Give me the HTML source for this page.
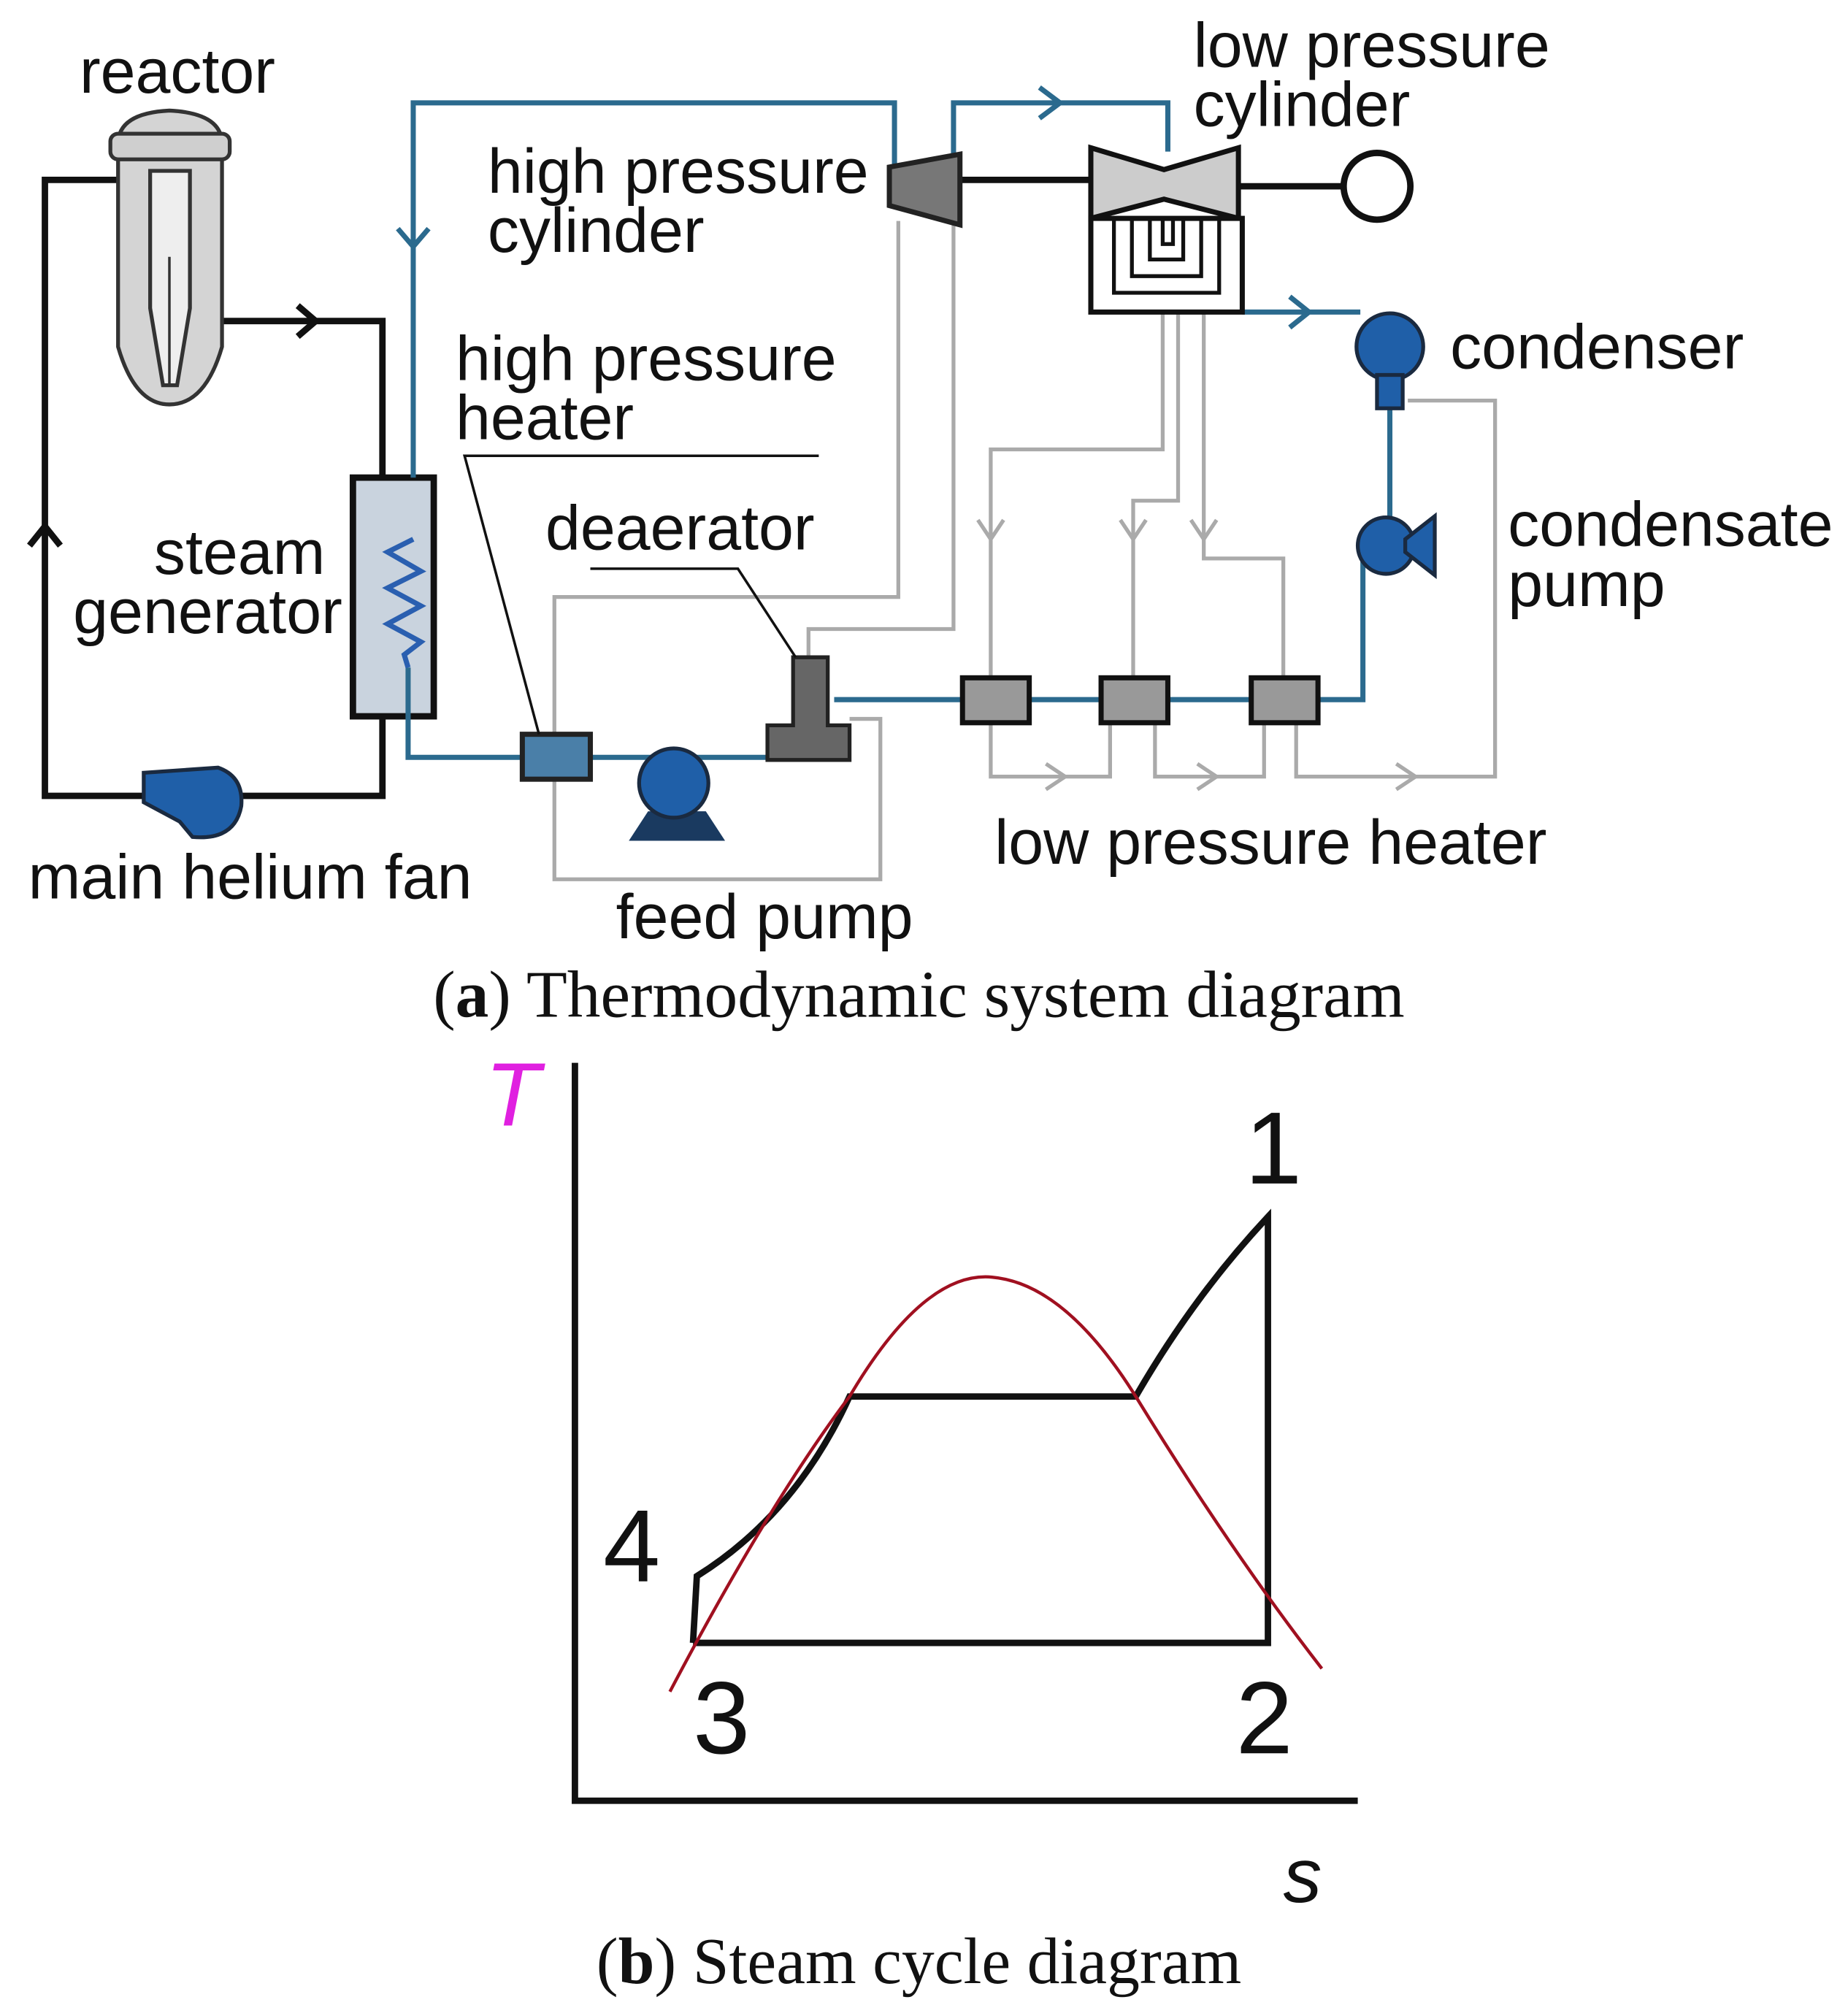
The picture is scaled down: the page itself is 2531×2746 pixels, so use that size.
<!DOCTYPE html>
<html><head><meta charset="utf-8"><style>
html,body{margin:0;padding:0;background:#fff;}
svg{display:block;}
text{font-family:"Liberation Sans",sans-serif;fill:#111;}
.s{font-family:"Liberation Serif",serif;}
</style></head><body>
<svg width="2531" height="2746" viewBox="0 0 1440 1562" xmlns="http://www.w3.org/2000/svg">
<rect width="1440" height="1562" fill="#fff"/>
<!-- gray extraction lines -->
<g fill="none" stroke="#aaa" stroke-width="3">
<polyline points="700,172 700,465 432,465 432,685 686,685 686,560 662,560"/>
<polyline points="743,172 743,490 630,490 630,512"/>
<polyline points="906,243 906,350 772,350 772,528"/>
<polyline points="918,243 918,390 883,390 883,528"/>
<polyline points="938,243 938,435 1000,435 1000,528"/>
<polyline points="772,563 772,605 865,605 865,563"/>
<polyline points="900,563 900,605 985,605 985,563"/>
<polyline points="1010,563 1010,605 1165,605 1165,312 1097,312"/>
<polyline points="762,405 772,420 782,405"/>
<polyline points="873,405 883,420 893,405"/>
<polyline points="928,405 938,420 948,405"/>
<polyline points="815,595 830,605 815,615"/>
<polyline points="933,595 948,605 933,615"/>
<polyline points="1088,595 1103,605 1088,615"/>
</g>
<!-- black loop -->
<g fill="none" stroke="#111" stroke-width="5">
<polyline points="95,140 35,140 35,620 298,620 298,558"/>
<polyline points="170,250 298,250 298,372"/>
<polyline points="232,238 246,250 232,262"/>
<polyline points="23,425 35,410 47,425"/>
<line x1="748" y1="140" x2="850" y2="140"/>
<line x1="965" y1="145" x2="1048" y2="145"/>
</g>
<circle cx="1073" cy="145" r="26" fill="#fff" stroke="#111" stroke-width="5"/>
<!-- reactor -->
<path d="M92,112 Q92,88 132,86 Q173,88 173,112 L173,270 Q160,315 132,315 Q105,315 92,270 Z" fill="#d4d4d4" stroke="#333" stroke-width="3"/>
<rect x="86" y="104" width="93" height="20" rx="6" fill="#cfcfcf" stroke="#333" stroke-width="3"/>
<path d="M117,133 L148,133 L148,240 L138,300 L127,300 L117,240 Z" fill="#eee" stroke="#333" stroke-width="3"/>
<line x1="132" y1="200" x2="132" y2="300" stroke="#333" stroke-width="2"/>
<!-- steam generator -->
<rect x="275" y="372" width="63" height="186" fill="#c9d3de" stroke="#111" stroke-width="5"/>
<!-- blue lines -->
<g fill="none" stroke="#2b6a8e" stroke-width="4">
<polyline points="322,372 322,80 697,80 697,128"/>
<polyline points="743,135 743,80 910,80 910,118"/>
<polyline points="318,520 318,590 633,590 633,592"/>
<polyline points="650,545 1062,545 1062,425"/>
<polyline points="1083,425 1083,318"/>
<polyline points="968,243 1060,243"/>
<polyline points="310,178 322,192 334,178"/>
<polyline points="810,68 826,80 810,92"/>
<polyline points="1005,231 1020,243 1005,255"/>
<polyline points="322,420 302,430 328,445 302,458 328,472 302,486 328,500 315,510 318,520" stroke="#2a5fb0"/>
</g>
<!-- HP cylinder -->
<path d="M693,130 L748,120 L748,175 L693,160 Z" fill="#777" stroke="#222" stroke-width="4"/>
<!-- LP turbine -->
<path d="M850,115 L907,132 L965,115 L965,170 L907,155 L850,170 Z" fill="#ccc" stroke="#111" stroke-width="4"/>
<rect x="850" y="170" width="118" height="73" fill="#fff" stroke="#111" stroke-width="4"/>
<g fill="none" stroke="#111" stroke-width="3">
<polyline points="868,170 868,228 950,228 950,170"/>
<polyline points="882,170 882,215 936,215 936,170"/>
<polyline points="896,170 896,202 922,202 922,170"/>
<polyline points="906,170 906,190 914,190 914,170"/>
</g>
<!-- condenser -->
<circle cx="1083" cy="270" r="26" fill="#1f5fa8" stroke="#1a2a40" stroke-width="3"/>
<rect x="1073" y="292" width="20" height="26" fill="#1f5fa8" stroke="#1a2a40" stroke-width="3"/>
<!-- condensate pump -->
<circle cx="1080" cy="425" r="22" fill="#1f5fa8" stroke="#1a2a40" stroke-width="3"/>
<path d="M1095,420 L1118,402 L1118,448 L1095,430Z" fill="#1f5fa8" stroke="#1a2a40" stroke-width="3"/>
<!-- LP heaters -->
<rect x="750" y="528" width="52" height="35" fill="#999" stroke="#111" stroke-width="4"/>
<rect x="858" y="528" width="52" height="35" fill="#999" stroke="#111" stroke-width="4"/>
<rect x="975" y="528" width="52" height="35" fill="#999" stroke="#111" stroke-width="4"/>
<!-- deaerator -->
<path d="M618,512 L645,512 L645,565 L662,565 L662,592 L598,592 L598,565 L618,565 Z" fill="#666" stroke="#222" stroke-width="3"/>
<!-- HP heater -->
<rect x="407" y="572" width="53" height="35" fill="#4a7fa8" stroke="#222" stroke-width="4"/>
<!-- feed pump -->
<path d="M490,655 L565,655 L550,632 L505,632Z" fill="#1a3a60"/>
<circle cx="525" cy="610" r="27" fill="#1f5fa8" stroke="#1a2a40" stroke-width="3"/>
<!-- main helium fan -->
<path d="M112,602 L170,598 Q190,605 188,628 Q183,655 150,652 L140,640 L112,625 Z" fill="#1f5fa8" stroke="#1a2a40" stroke-width="3"/>
<!-- leaders -->
<g fill="none" stroke="#111" stroke-width="2">
<polyline points="638,355 362,355 420,572"/>
<polyline points="460,443 575,443 620,512"/>
</g>
<!-- labels -->
<g font-size="49">
<text x="62" y="72">reactor</text>
<text x="930" y="52">low pressure</text>
<text x="930" y="98">cylinder</text>
<text x="380" y="150">high pressure</text>
<text x="380" y="196">cylinder</text>
<text x="355" y="296">high pressure</text>
<text x="355" y="342">heater</text>
<text x="1130" y="287">condenser</text>
<text x="425" y="428">deaerator</text>
<text x="120" y="447">steam</text>
<text x="57" y="493">generator</text>
<text x="1175" y="425">condensate</text>
<text x="1175" y="472">pump</text>
<text x="775" y="673">low pressure heater</text>
<text x="22" y="700">main helium fan</text>
<text x="480" y="731">feed pump</text>
</g>
<text class="s" x="716" y="792" font-size="52" text-anchor="middle">(<tspan font-weight="bold">a</tspan>) Thermodynamic system diagram</text>
<!-- T-s -->
<text x="378" y="877" font-size="70" font-style="italic" style="fill:#e020e0">T</text>
<g fill="none" stroke="#111" stroke-width="5">
<polyline points="448,828 448,1403 1058,1403"/>
<path d="M540,1280 L988,1280 L988,948 Q930,1010 885,1088 L662,1088 Q620,1180 543,1228 L540,1280"/>
</g>
<path d="M522,1318 Q600,1170 662,1088 Q720,990 773,995 Q830,1000 885,1088 Q960,1210 1030,1300" fill="none" stroke="#a01020" stroke-width="2.5"/>
<g font-size="80">
<text x="970" y="922">1</text>
<text x="470" y="1232">4</text>
<text x="540" y="1366">3</text>
<text x="963" y="1366">2</text>
</g>
<text x="1000" y="1482" font-size="60" font-style="italic">s</text>
<text class="s" x="716" y="1545" font-size="51" text-anchor="middle">(<tspan font-weight="bold">b</tspan>) Steam cycle diagram</text>
</svg>
</body></html>
